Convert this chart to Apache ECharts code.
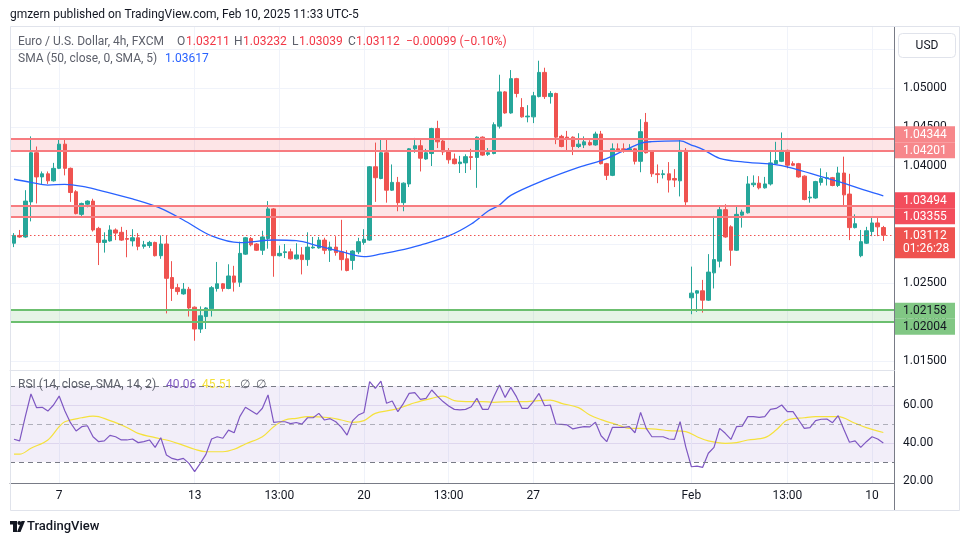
<!DOCTYPE html>
<html><head><meta charset="utf-8">
<script src="https://cdn.jsdelivr.net/npm/echarts@6/dist/echarts.min.js"></script>
<style>html,body{margin:0;padding:0;background:#fff}#c{width:970px;height:545px}</style>
</head><body><div id="c"></div>
<script>
// ---- data (EUR/USD 4h, FXCM) ----
const openP = [1.0301,1.0311,1.0309,1.0354,1.0417,1.0386,1.0390,1.0381,1.0397,1.0428,
1.0397,1.0367,1.0338,1.0351,1.0355,1.0320,1.0302,1.0304,1.0318,1.0315,
1.0307,1.0304,1.0308,1.0297,1.0298,1.0302,1.0285,1.0300,1.0257,1.0244,
1.0236,1.0242,1.0219,1.0191,1.0207,1.0217,1.0243,1.0249,1.0243,1.0259,
1.0251,1.0287,1.0307,1.0300,1.0292,1.0307,1.0345,1.0285,1.0289,1.0290,
1.0281,1.0286,1.0280,1.0295,1.0295,1.0305,1.0292,1.0296,1.0290,1.0281,
1.0279,1.0290,1.0302,1.0305,1.0399,1.0384,1.0417,1.0369,1.0379,1.0353,
1.0377,1.0422,1.0426,1.0409,1.0416,1.0448,1.0432,1.0418,1.0409,1.0403,
1.0404,1.0412,1.0411,1.0437,1.0415,1.0416,1.0451,1.0495,1.0468,1.0512,
1.0475,1.0463,1.0463,1.0489,1.0520,1.0489,1.0493,1.0438,1.0437,1.0437,
1.0425,1.0427,1.0430,1.0427,1.0441,1.0403,1.0388,1.0422,1.0422,1.0420,
1.0422,1.0406,1.0456,1.0418,1.0390,1.0389,1.0390,1.0384,1.0381,1.0420,
1.0231,1.0237,1.0240,1.0228,1.0263,1.0278,1.0344,1.0322,1.0292,1.0337,
1.0340,1.0376,1.0378,1.0372,1.0377,1.0403,1.0406,1.0420,1.0403,1.0403,
1.0387,1.0359,1.0359,1.0379,1.0384,1.0385,1.0375,1.0391,1.0364,1.0321,
1.0285,1.0301,1.0316,1.0327,1.03211];
const closeP = [1.0311,1.0309,1.0355,1.0417,1.0386,1.0390,1.0381,1.0397,1.0428,1.0397,
1.0366,1.0339,1.0352,1.0355,1.0318,1.0302,1.0305,1.0318,1.0314,1.0305,
1.0306,1.0308,1.0297,1.0299,1.0302,1.0285,1.0300,1.0256,1.0243,1.0239,
1.0242,1.0218,1.0191,1.0208,1.0218,1.0244,1.0249,1.0243,1.0259,1.0251,
1.0288,1.0308,1.0299,1.0292,1.0309,1.0345,1.0285,1.0288,1.0290,1.0281,
1.0286,1.0280,1.0296,1.0296,1.0305,1.0292,1.0296,1.0289,1.0280,1.0266,
1.0291,1.0303,1.0306,1.0399,1.0385,1.0417,1.0369,1.0379,1.0353,1.0378,
1.0422,1.0426,1.0410,1.0417,1.0448,1.0431,1.0418,1.0408,1.0403,1.0405,
1.0412,1.0411,1.0437,1.0414,1.0417,1.0453,1.0495,1.0468,1.0512,1.0493,
1.0463,1.0464,1.0490,1.0520,1.0489,1.0493,1.0437,1.0425,1.0436,1.0425,
1.0428,1.0431,1.0427,1.0441,1.0403,1.0388,1.0422,1.0420,1.0421,1.0422,
1.0406,1.0444,1.0417,1.0390,1.0389,1.0390,1.0382,1.0382,1.0420,1.0354,
1.0237,1.0240,1.0228,1.0264,1.0280,1.0344,1.0309,1.0292,1.0338,1.0341,
1.0377,1.0378,1.0372,1.0377,1.0404,1.0407,1.0420,1.0401,1.0401,1.0386,
1.0357,1.0360,1.0380,1.0384,1.0385,1.0375,1.0391,1.0363,1.0321,1.0326,
1.0303,1.0317,1.0327,1.0322,1.03112];
const lowP = [1.0296,1.0308,1.0308,1.0329,1.0352,1.0377,1.0377,1.0380,1.0396,1.0388,
1.0354,1.0338,1.0336,1.0347,1.0316,1.0273,1.0289,1.0303,1.0305,1.0304,
1.0283,1.0297,1.0292,1.0294,1.0295,1.0284,1.0281,1.0211,1.0227,1.0235,
1.0235,1.0207,1.0176,1.0186,1.0191,1.0207,1.0239,1.0239,1.0242,1.0239,
1.0245,1.0286,1.0297,1.0291,1.0286,1.0294,1.0258,1.0284,1.0282,1.0280,
1.0280,1.0261,1.0272,1.0294,1.0294,1.0287,1.0277,1.0285,1.0266,1.0265,
1.0267,1.0287,1.0299,1.0304,1.0354,1.0383,1.0353,1.0368,1.0342,1.0342,
1.0373,1.0417,1.0393,1.0408,1.0400,1.0423,1.0414,1.0403,1.0402,1.0391,
1.0391,1.0395,1.0372,1.0413,1.0413,1.0415,1.0448,1.0467,1.0467,1.0488,
1.0462,1.0456,1.0455,1.0488,1.0486,1.0480,1.0428,1.0424,1.0420,1.0414,
1.0423,1.0423,1.0426,1.0426,1.0402,1.0382,1.0387,1.0419,1.0417,1.0419,
1.0402,1.0392,1.0416,1.0386,1.0378,1.0384,1.0366,1.0373,1.0361,1.0350,
1.0210,1.0213,1.0212,1.0227,1.0243,1.0270,1.0308,1.0272,1.0291,1.0321,
1.0339,1.0373,1.0370,1.0371,1.0375,1.0402,1.0405,1.0397,1.0400,1.0385,
1.0356,1.0353,1.0358,1.0375,1.0375,1.0374,1.0373,1.0350,1.0305,1.0320,
1.0283,1.0300,1.0310,1.0310,1.03039];
const highP = [1.0314,1.0318,1.0369,1.0438,1.0425,1.0393,1.0393,1.0404,1.0435,1.0435,
1.0398,1.0369,1.0353,1.0356,1.0358,1.0322,1.0315,1.0324,1.0320,1.0322,
1.0318,1.0319,1.0314,1.0304,1.0304,1.0303,1.0311,1.0311,1.0278,1.0249,
1.0250,1.0245,1.0220,1.0220,1.0219,1.0246,1.0277,1.0250,1.0274,1.0272,
1.0303,1.0309,1.0309,1.0301,1.0317,1.0355,1.0346,1.0298,1.0300,1.0294,
1.0301,1.0296,1.0315,1.0309,1.0309,1.0308,1.0303,1.0310,1.0331,1.0292,
1.0292,1.0308,1.0319,1.0400,1.0430,1.0435,1.0435,1.0402,1.0386,1.0379,
1.0423,1.0436,1.0435,1.0422,1.0449,1.0458,1.0435,1.0423,1.0416,1.0413,
1.0415,1.0422,1.0438,1.0438,1.0423,1.0456,1.0517,1.0496,1.0523,1.0513,
1.0487,1.0478,1.0495,1.0535,1.0526,1.0496,1.0494,1.0440,1.0445,1.0438,
1.0442,1.0438,1.0433,1.0444,1.0445,1.0404,1.0429,1.0429,1.0429,1.0428,
1.0423,1.0460,1.0468,1.0419,1.0402,1.0395,1.0405,1.0396,1.0434,1.0423,
1.0271,1.0241,1.0254,1.0287,1.0336,1.0350,1.0351,1.0324,1.0349,1.0344,
1.0387,1.0388,1.0387,1.0386,1.0418,1.0431,1.0443,1.0421,1.0406,1.0404,
1.0388,1.0368,1.0381,1.0397,1.0392,1.0386,1.0399,1.0412,1.0390,1.0338,
1.0318,1.0322,1.0335,1.0335,1.03232];
// SMA(50) read at bar positions [barIndex, value]
const smaPoints = [[0,1.0383],[3,1.0379],[6,1.03756],[9,1.03765],[13,1.03727],[15,1.03692],[21,1.03577],[26,1.03458],[30,1.03308],[35,1.03103],[40,1.03017],[46,1.03051],[50,1.03042],[54,1.02974],[58,1.02901],[62,1.02837],[65,1.02872],[68,1.02914],[72,1.02987],[77,1.03103],[81,1.03256],[84,1.03423],[86,1.035],[88,1.03624],[94,1.03821],[100,1.03983],[104,1.0407],[106,1.04128],[111,1.04291],[113,1.04312],[118,1.04321],[120,1.04269],[122,1.04214],[125,1.04099],[130,1.04047],[134,1.04026],[138,1.03971],[143,1.03863],[148,1.03756],[151,1.03683],[154,1.03617]];
// RSI(14) per bar
const rsiValues = [42.0,41.1,53.9,65.8,58.6,58.8,56.8,60.0,64.7,57.0,
50.7,46.3,48.6,49.1,43.3,40.7,41.1,44.0,43.3,41.6,
41.6,42.1,40.2,40.7,41.6,37.7,42.8,33.7,31.9,31.1,
31.9,29.3,24.9,29.3,34.0,42.1,43.3,42.5,46.8,45.4,
53.9,58.8,57.0,55.1,58.3,65.3,50.9,51.2,51.2,50.2,
50.8,49.9,53.3,53.3,55.6,52.1,52.8,51.2,48.2,44.2,
51.8,54.7,56.1,72.3,68.8,72.6,60.9,62.1,56.5,60.9,
66.1,66.5,63.0,63.5,67.9,64.7,61.8,59.5,57.7,57.4,
57.7,59.1,63.5,57.7,57.7,64.4,70.5,64.0,69.3,64.4,
58.2,58.2,61.8,66.1,59.6,60.0,50.0,49.8,49.5,47.4,
48.1,48.6,48.5,50.9,43.8,40.7,48.2,48.2,48.2,48.6,
45.4,56.1,47.7,43.3,43.3,43.3,42.1,41.9,51.2,38.0,
27.5,27.8,27.2,34.6,37.7,47.7,45.1,41.9,48.6,48.9,
53.9,53.9,53.5,53.9,57.7,58.2,60.0,56.5,56.5,52.1,
47.7,48.1,51.8,52.5,52.6,50.7,54.4,47.2,40.4,41.1,
37.7,40.7,43.3,42.1,40.06];
// RSI-based SMA(14) read at bar positions
const rsiSmaPoints = [[0,34.1],[1,34.1],[3,37.2],[6,41.6],[8,48.6],[9,51.2],[12,53.3],[14,54.2],[15,53.9],[18,50.7],[20,48.2],[22,45.1],[25,42.8],[27,41.6],[29,39.8],[32,36.7],[34,35.4],[37,35.4],[39,36.7],[41,39.5],[44,43.3],[46,48.6],[48,52.1],[50,53.0],[52,53.9],[56,53.3],[58,52.1],[60,50.9],[62,51.8],[64,55.6],[67,57.4],[69,59.1],[71,61.2],[74,63.5],[76,64.7],[78,62.3],[81,61.8],[83,61.8],[85,61.4],[88,61.8],[90,61.8],[93,62.3],[95,62.6],[97,60.9],[100,58.6],[102,54.7],[104,52.3],[107,49.5],[109,47.7],[111,47.7],[114,47.2],[116,46.5],[119,46.0],[121,43.3],[123,41.1],[126,39.8],[128,40.2],[130,41.6],[133,42.8],[135,46.8],[137,52.1],[140,53.3],[142,53.9],[145,53.9],[146,53.9],[149,50.4],[151,48.1],[154,45.51]];
const timeTickIdx = [8,32,47,62,77,92,120,137,152];
const timeTickLabels = ['7','13','13:00','20','13:00','27','Feb','13:00','10'];
const priceTicks = [1.015,1.02,1.025,1.03,1.035,1.04,1.045,1.05,1.055];
const rsiGridTicks = [40,60];
const rsiLabelTicks = [20,40,60];
const upperZone = [1.04201,1.04344];
const middleZone = [1.03355,1.03494];
const supportZone = [1.02004,1.02158];
const lastPrice = 1.03112;
const countdown = '01:26:28';

// ---- chart ----
const FONT = "Roboto, 'Liberation Sans', sans-serif";
const RED = '#ef5350', GREEN = '#26a69a';
const candles = openP.map((o,i)=>[i,o,closeP[i],lowP[i],highP[i]]);
const chart = echarts.init(document.getElementById('c'), null, {renderer:'canvas'});
const xBase = {type:'value', min:-0.709, max:155.89};
const zoneLine = (v,c)=>({yAxis:v, lineStyle:{color:c,width:2,type:'solid'}});
const option = {
  animation:false,
  backgroundColor:'#ffffff',
  grid:[
    {left:10, top:27, width:884, height:343, outerBoundsMode:'none'},
    {left:10, top:371, width:884, height:112, outerBoundsMode:'none'}
  ],
  xAxis:[
    Object.assign({gridIndex:0}, xBase, {
      axisLine:{show:true,onZero:false,lineStyle:{color:'#e0e3eb'}},
      axisTick:{show:false, customValues:timeTickIdx},
      axisLabel:{show:false},
      splitLine:{show:true,lineStyle:{color:'#f0f3fa',width:1}}
    }),
    Object.assign({gridIndex:1}, xBase, {
      axisLine:{show:true,onZero:false,lineStyle:{color:'#787b86'}},
      axisTick:{show:false, customValues:timeTickIdx},
      axisLabel:{show:true, customValues:timeTickIdx, margin:7, color:'#131722', fontSize:12, fontFamily:FONT,
        formatter:(v)=>{const j=timeTickIdx.indexOf(Math.round(v)); return j>=0?timeTickLabels[j]:'';}},
      splitLine:{show:true,lineStyle:{color:'#f0f3fa',width:1}}
    })
  ],
  yAxis:[
    {gridIndex:0, type:'value', position:'right', min:1.013846, max:1.057821,
      axisLine:{show:true,onZero:false,lineStyle:{color:'#787b86'}},
      axisTick:{show:false, customValues:priceTicks},
      axisLabel:{show:true, customValues:priceTicks, margin:9, color:'#131722', fontSize:12, fontFamily:FONT,
        formatter:(v)=>v.toFixed(5)},
      splitLine:{show:true,lineStyle:{color:'#f0f3fa',width:1}}
    },
    {gridIndex:1, type:'value', position:'right', min:18.95, max:77.9,
      axisLine:{show:true,onZero:false,lineStyle:{color:'#787b86'}},
      axisTick:{show:false, customValues:rsiGridTicks},
      axisLabel:{show:true, customValues:rsiLabelTicks, margin:9, color:'#131722', fontSize:12, fontFamily:FONT,
        formatter:(v)=>v.toFixed(2)},
      splitLine:{show:true,lineStyle:{color:'#e9e5f3',width:1}}
    }
  ],
  series:[
    {type:'candlestick', xAxisIndex:0, yAxisIndex:0, data:candles, encode:{x:0,y:[1,2,3,4]},
      barWidth:4,
      itemStyle:{color:GREEN,color0:RED,borderColor:GREEN,borderColor0:RED,borderWidth:1},
      markArea:{silent:true, data:[
        [{yAxis:upperZone[0],itemStyle:{color:'rgba(242,54,69,0.13)'}},{yAxis:upperZone[1]}],
        [{yAxis:middleZone[0],itemStyle:{color:'rgba(242,54,69,0.13)'}},{yAxis:middleZone[1]}],
        [{yAxis:supportZone[0],itemStyle:{color:'rgba(76,175,80,0.14)'}},{yAxis:supportZone[1]}]
      ]},
      markLine:{silent:true, precision:5, symbol:['none','none'], label:{show:false}, animation:false, data:[
        zoneLine(upperZone[0],'#f77c80'), zoneLine(upperZone[1],'#f77c80'),
        zoneLine(middleZone[0],'#f77c80'), zoneLine(middleZone[1],'#f77c80'),
        zoneLine(supportZone[0],'#6cbf6f'), zoneLine(supportZone[1],'#6cbf6f'),
        {yAxis:lastPrice, lineStyle:{color:RED,width:1,type:[1.5,2.5]}}
      ]}
    },
    {type:'line', xAxisIndex:0, yAxisIndex:0, data:smaPoints, smooth:0.35, showSymbol:false,
      lineStyle:{color:'#2962ff',width:1.3}, z:3},
    {type:'line', xAxisIndex:1, yAxisIndex:1, data:rsiValues.map((v,i)=>[i,v]), showSymbol:false,
      lineStyle:{color:'#7e57c2',width:1.2}, z:4,
      markArea:{silent:true, data:[[{yAxis:30,itemStyle:{color:'rgba(126,87,194,0.1)'}},{yAxis:70}]]},
      markLine:{silent:true, precision:2, symbol:['none','none'], label:{show:false}, animation:false, data:[
        {yAxis:70, lineStyle:{color:'#787b86',width:1,type:[5,4]}},
        {yAxis:50, lineStyle:{color:'rgba(120,123,134,0.55)',width:1,type:[5,4]}},
        {yAxis:30, lineStyle:{color:'#787b86',width:1,type:[5,4]}}
      ]}
    },
    {type:'line', xAxisIndex:1, yAxisIndex:1, data:rsiSmaPoints, smooth:0.35, showSymbol:false,
      lineStyle:{color:'#f5e13c',width:1.2}, z:3}
  ]
};
chart.setOption(option);

// ---- overlays: header, legend texts, price-axis boxes ----
const py = (v)=>chart.convertToPixel({yAxisIndex:0}, v);
const txt = (x,y,s,color,size,extra)=>Object.assign({type:'text', x:x, y:y, z:100,
  style:{text:s, fill:color, font:(size||12)+'px '+FONT, textVerticalAlign:'middle'}}, extra||{});
const GRAY = '#5d606b', TRED = '#f23645';
const g = [];
// frame
g.push({type:'rect', z:90, shape:{x:10.5,y:26.5,width:949,height:484}, style:{fill:null, stroke:'#e0e3eb', lineWidth:1}});
g.push({type:'rect', z:95, shape:{x:895,y:484,width:64,height:26}, style:{fill:'#fff'}});
g.push({type:'line', z:96, shape:{x1:894.5,y1:483,x2:894.5,y2:510}, style:{stroke:'#787b86', lineWidth:1}});
// header
g.push(txt(10,15,'gmzern published on TradingView.com, Feb 10, 2025 11:33 UTC-5','#131722',12));
g.push(txt(18,42,'Euro / U.S. Dollar, 4h, FXCM',GRAY,12));
const ohlc = [['O',177,openP[154].toFixed(5),186],['H',234,highP[154].toFixed(5),243],['L',292,lowP[154].toFixed(5),299],['C',348,closeP[154].toFixed(5),356]];
ohlc.forEach(a=>{g.push(txt(a[1],42,a[0],GRAY,12)); g.push(txt(a[3],42,a[2],TRED,12));});
g.push(txt(406,42,'\u22120.00099 (\u22120.10%)',TRED,12));
g.push(txt(18,59,'SMA (50, close, 0, SMA, 5)',GRAY,12));
g.push(txt(165,59,smaPoints[smaPoints.length-1][1].toFixed(5),'#2962ff',12));
// RSI legend
g.push(txt(18,385,'RSI (14, close, SMA, 14, 2)',GRAY,12));
g.push(txt(166,385,rsiValues[154].toFixed(2),'#7e57c2',12));
g.push(txt(202,385,rsiSmaPoints[rsiSmaPoints.length-1][1].toFixed(2),'#f5e13c',12));
g.push(txt(240,385,'\u2205',GRAY,12));
g.push(txt(256,385,'\u2205',GRAY,12));
// USD button
g.push({type:'rect', z:100, shape:{x:898.5,y:33.5,width:57,height:24,r:4}, style:{fill:'#fff', stroke:'#e0e3eb', lineWidth:1}});
g.push({type:'text', z:101, x:927, y:45.5, style:{text:'USD', fill:'#131722', font:'12px '+FONT, textAlign:'center', textVerticalAlign:'middle'}});
// price boxes
const box = (yc,label,bg,fg,h)=>{
  g.push({type:'rect', z:100, shape:{x:895,y:yc-8,width:60,height:h||16}, style:{fill:bg}});
  g.push({type:'text', z:101, x:903, y:yc+0.5, style:{text:label, fill:fg, font:'12px '+FONT, textVerticalAlign:'middle'}});
};
const yA = py(upperZone[0]);
box(yA-16, upperZone[1].toFixed(5), '#f7878b', '#fff');
box(yA, upperZone[0].toFixed(5), '#f7878b', '#fff');
const yB = py(middleZone[0]);
box(yB-16, middleZone[1].toFixed(5), '#f34d5c', '#fff');
box(yB, middleZone[0].toFixed(5), '#f34d5c', '#fff');
const yC = py(lastPrice);
box(yC, lastPrice.toFixed(5), '#ef5350', '#fff', 31);
g.push({type:'text', z:101, x:903, y:yC+14, style:{text:countdown, fill:'#fff', font:'12px '+FONT, textVerticalAlign:'middle'}});
const yD = py(supportZone[1]);
box(yD+1, supportZone[1].toFixed(5), '#81c784', '#131722');
box(yD+17, supportZone[0].toFixed(5), '#81c784', '#131722');
// TradingView logo
g.push({type:'rect', z:100, shape:{x:10,y:521,width:7,height:3.5}, style:{fill:'#131722'}});
g.push({type:'rect', z:100, shape:{x:13,y:521,width:4,height:11}, style:{fill:'#131722'}});
g.push({type:'circle', z:100, shape:{cx:19.3,cy:523,r:1.9}, style:{fill:'#131722'}});
g.push({type:'polygon', z:100, shape:{points:[[21.5,521],[25,521],[20.5,532],[17,532]]}, style:{fill:'#131722'}});
g.push({type:'text', z:100, x:27, y:527, style:{text:'TradingView', fill:'#131722', font:'500 13px '+FONT, textVerticalAlign:'middle'}});
chart.setOption({graphic:g});
</script></body></html>
